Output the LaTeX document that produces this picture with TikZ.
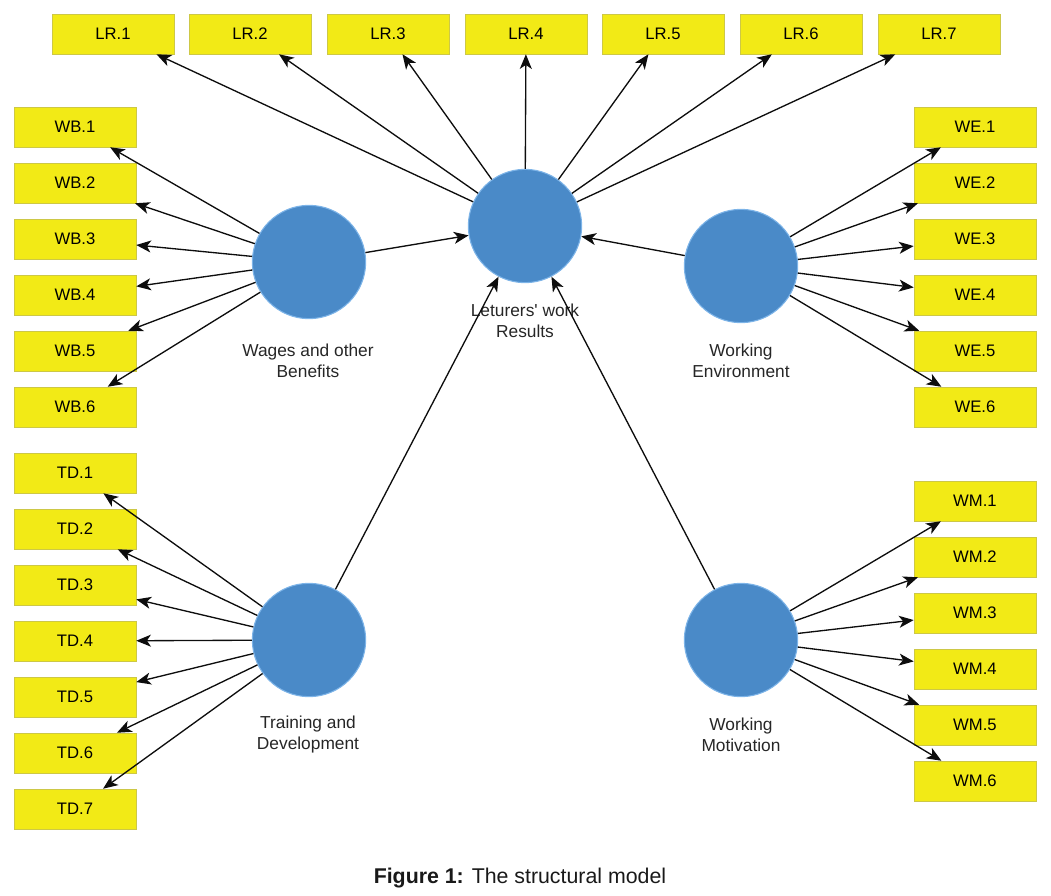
\documentclass[tikz,border=0pt]{standalone}
\usepackage{fontspec}
\setmainfont{Liberation Sans}[Ligatures=TeXOff]
\usetikzlibrary{arrows.meta}
\definecolor{indyellow}{RGB}{242,234,22}
\definecolor{indedge}{RGB}{205,200,70}
\definecolor{latblue}{RGB}{74,138,200}
\definecolor{latedge}{RGB}{125,180,232}

\begin{document}
\begin{tikzpicture}[x=0.75pt, y=-0.75pt,
  ind/.style={draw=indedge, fill=indyellow, minimum width=91.5pt, minimum height=30pt, inner sep=0pt, font=\fontsize{12.5}{15}\selectfont},
  lat/.style={circle, draw=latedge, line width=0.8pt, fill=latblue, minimum size=85pt, inner sep=0pt},
  latlab/.style={align=center, font=\fontsize{13}{15.75}\selectfont, text=black!85},
  load/.style={-{Stealth[length=11pt,width=9pt,inset=3pt]}, line width=1pt, black!95}]
  \useasboundingbox (0,0) rectangle (1051,896);

  % latent variables
  \node[lat] (lr) at (525,226) {};
  \node[lat] (wb) at (309,262) {};
  \node[lat] (we) at (741,266) {};
  \node[lat] (td) at (309,640) {};
  \node[lat] (wm) at (741,640) {};

  \node[latlab] (lrlab) at (525,321) {Leturers' work\\Results};
  \node[latlab] (wblab) at (308,361) {Wages and other\\Benefits};
  \node[latlab] (welab) at (741,361) {Working\\Environment};
  \node[latlab] (tdlab) at (308,735) {Training and\\Development};
  \node[latlab] (wmlab) at (741,735) {Working\\Motivation};

  % indicators
  \node[ind] (lr1) at (113,34) {LR.1};
  \node[ind] (lr2) at (250,34) {LR.2};
  \node[ind] (lr3) at (388,34) {LR.3};
  \node[ind] (lr4) at (526,34) {LR.4};
  \node[ind] (lr5) at (663,34) {LR.5};
  \node[ind] (lr6) at (801,34) {LR.6};
  \node[ind] (lr7) at (939,34) {LR.7};

  \node[ind] (wb1) at (75,127) {WB.1};
  \node[ind] (wb2) at (75,183) {WB.2};
  \node[ind] (wb3) at (75,239) {WB.3};
  \node[ind] (wb4) at (75,295) {WB.4};
  \node[ind] (wb5) at (75,351) {WB.5};
  \node[ind] (wb6) at (75,407) {WB.6};

  \node[ind] (we1) at (975,127) {WE.1};
  \node[ind] (we2) at (975,183) {WE.2};
  \node[ind] (we3) at (975,239) {WE.3};
  \node[ind] (we4) at (975,295) {WE.4};
  \node[ind] (we5) at (975,351) {WE.5};
  \node[ind] (we6) at (975,407) {WE.6};

  \node[ind] (td1) at (75,473) {TD.1};
  \node[ind] (td2) at (75,529) {TD.2};
  \node[ind] (td3) at (75,585) {TD.3};
  \node[ind] (td4) at (75,641) {TD.4};
  \node[ind] (td5) at (75,697) {TD.5};
  \node[ind] (td6) at (75,753) {TD.6};
  \node[ind] (td7) at (75,809) {TD.7};

  \node[ind] (wm1) at (975,501) {WM.1};
  \node[ind] (wm2) at (975,557) {WM.2};
  \node[ind] (wm3) at (975,613) {WM.3};
  \node[ind] (wm4) at (975,669) {WM.4};
  \node[ind] (wm5) at (975,725) {WM.5};
  \node[ind] (wm6) at (975,781) {WM.6};

  % loadings
  \draw[load] (lr) -- (lr1);
  \draw[load] (lr) -- (lr2);
  \draw[load] (lr) -- (lr3);
  \draw[load] (lr) -- (lr4);
  \draw[load] (lr) -- (lr5);
  \draw[load] (lr) -- (lr6);
  \draw[load] (lr) -- (lr7);

  \draw[load] (wb) -- (wb1);
  \draw[load] (wb) -- (wb2);
  \draw[load] (wb) -- (wb3);
  \draw[load] (wb) -- (wb4);
  \draw[load] (wb) -- (wb5);
  \draw[load] (wb) -- (wb6);

  \draw[load] (we) -- (we1);
  \draw[load] (we) -- (we2);
  \draw[load] (we) -- (we3);
  \draw[load] (we) -- (we4);
  \draw[load] (we) -- (we5);
  \draw[load] (we) -- (we6);

  \draw[load] (td) -- (td1);
  \draw[load] (td) -- (td2);
  \draw[load] (td) -- (td3);
  \draw[load] (td) -- (td4);
  \draw[load] (td) -- (td5);
  \draw[load] (td) -- (td6);
  \draw[load] (td) -- (td7);

  \draw[load] (wm) -- (wm1);
  \draw[load] (wm) -- (wm2);
  \draw[load] (wm) -- (wm3);
  \draw[load] (wm) -- (wm4);
  \draw[load] (wm) -- (wm5);
  \draw[load] (wm) -- (wm6);

  % paths
  \draw[load] (wb) -- (lr);
  \draw[load] (we) -- (lr);
  \draw[load] (td) -- (lr);
  \draw[load] (wm) -- (lr);

  \node[font=\fontsize{16}{19}\selectfont, text=black!90] (caption) at (520,878) {\textbf{Figure 1:} The structural model};
\end{tikzpicture}
\end{document}
